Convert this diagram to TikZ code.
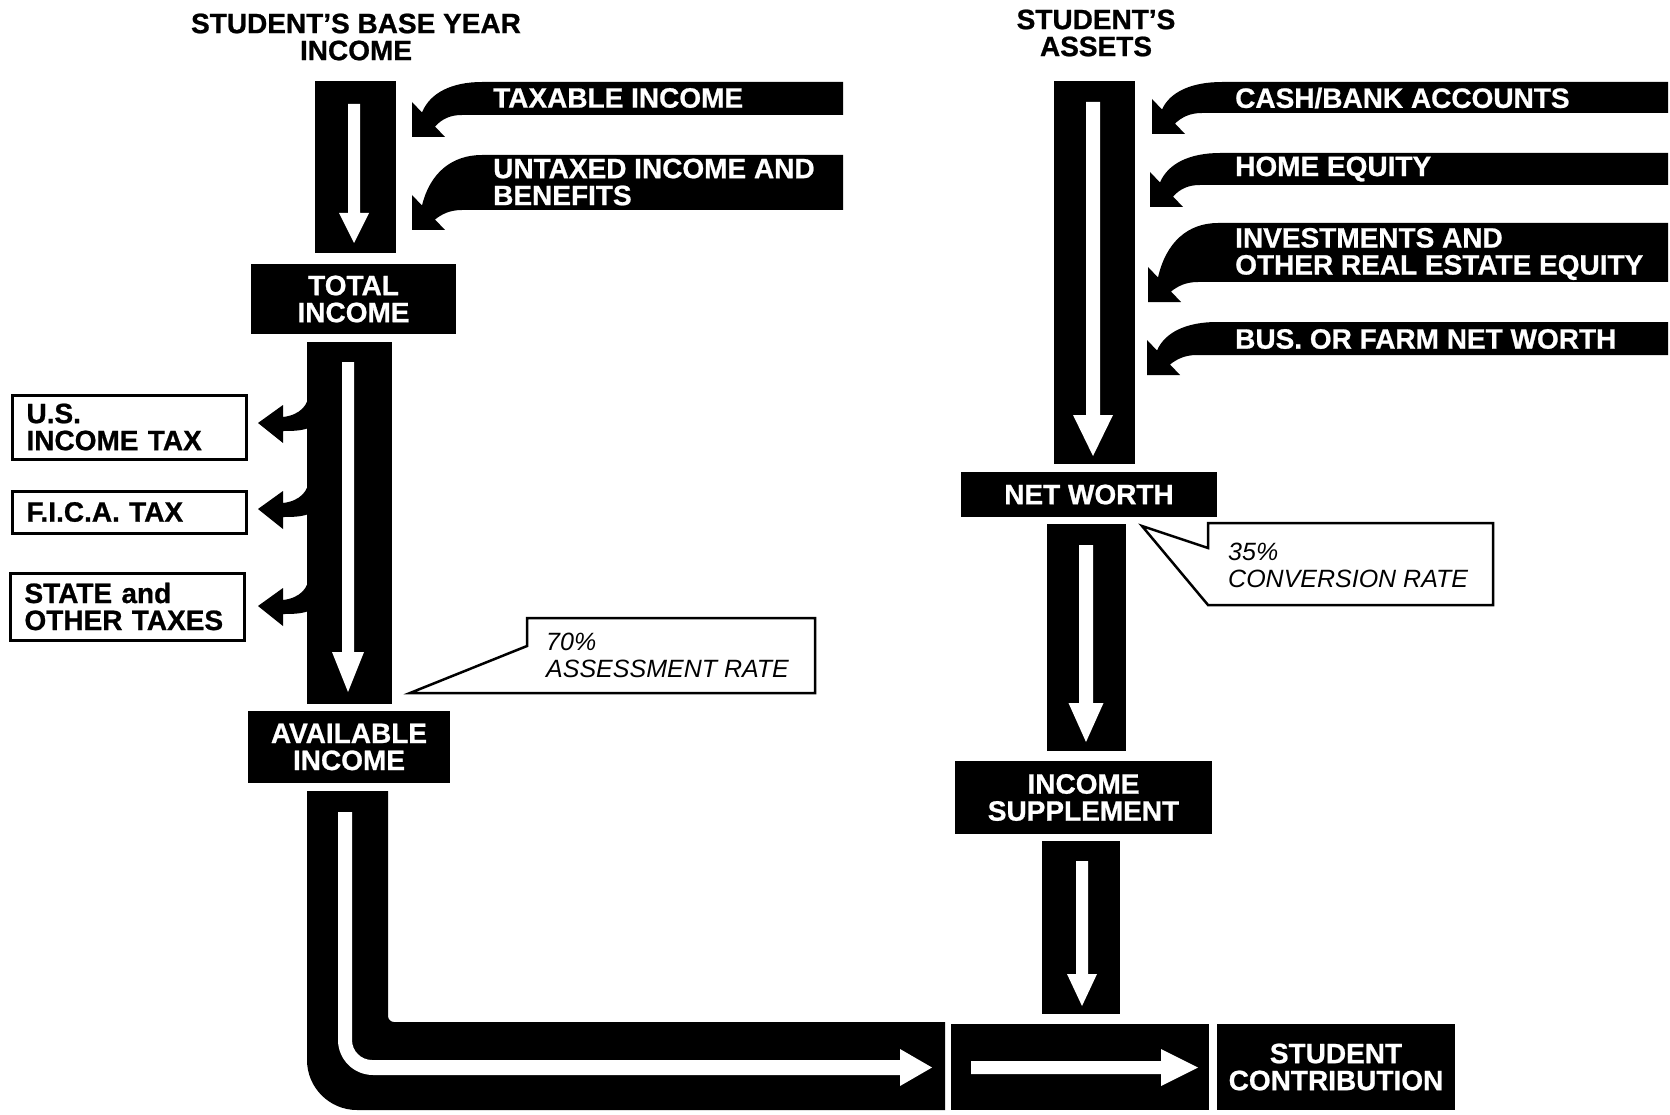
\documentclass[tikz,border=0pt]{standalone}
\usepackage{fontspec}
\setmainfont{Liberation Sans}[BoldFeatures={FakeBold=0.8}]
\newcommand\inarrow[5]{% X Y T B R
 \fill (#5,#3) -- ({#1+70},#3) .. controls ({#1+40},#3) and ({#1+18},{#3+0.35*(#2-24.5-#3)}) .. ({#1+10},{#2-24.5}) -- (#1,{#2-35}) -- (#1,#2) -- ({#1+33},#2) -- ({#1+23},{#2-10.5}) .. controls ({#1+30},{#4+4}) and ({#1+38},#4) .. ({#1+50},#4) -- (#5,#4) -- cycle;}
\newcommand\outarr[1]{%
 \fill (258,#1) -- (283,{#1-18}) -- (283,{#1-6}) .. controls (300,{#1-8}) and (309,{#1-18}) .. (309,{#1-31}) -- (309,{#1+5}) .. controls (300,{#1+8}) and (292,{#1+8}) .. (283,{#1+8}) -- (283,{#1+20}) -- cycle;}
\newcommand\wdown[6]{% xc ytop yhs ytip sw hw
 \fill[white] ({#1-#5/2},#2) -- ({#1+#5/2},#2) -- ({#1+#5/2},#3) -- ({#1+#6/2},#3) -- (#1,#4) -- ({#1-#6/2},#3) -- ({#1-#5/2},#3) -- cycle;}
\begin{document}
\begin{tikzpicture}[x=1pt,y=-1pt,
  bigtxt/.style={font=\fontsize{28}{27}\selectfont\bfseries, inner sep=0pt},
  wlbl/.style={bigtxt, text=white, align=center},
  blkbox/.style={fill=black, inner sep=0pt, wlbl},
  bandtxt/.style={bigtxt, text=white, align=left, anchor=west},
  taxbox/.style={draw=black, line width=3pt, fill=white, bigtxt, align=left, anchor=west, inner xsep=14pt, inner ysep=0pt, text width=206pt},
  callout/.style={draw=black, line width=2.5pt, fill=white, line join=miter},
  note/.style={font=\fontsize{25}{27}\selectfont\itshape, align=left, anchor=west, inner sep=0pt},
]
\useasboundingbox (0,0) rectangle (1670,1115);
\fill[white] (0,0) rectangle (1670,1115);

% ---------- titles
\node[bigtxt, align=center] (t1) at (356,37) {STUDENT'S BASE YEAR\\INCOME};
\node[bigtxt, align=center] (t2) at (1096,33) {STUDENT'S\\ASSETS};

% ---------- left column
\fill (315,81) rectangle (396,253);
\wdown{354}{104}{213}{243}{12}{30}
\inarrow{412}{137}{82}{115}{843}
\inarrow{412}{230}{155}{210}{843}
\node[bandtxt] (taxable) at (493,98) {TAXABLE INCOME};
\node[bandtxt] (untaxed) at (493,182) {UNTAXED INCOME AND\\BENEFITS};

\node[blkbox, minimum width=205pt, minimum height=70pt] (total) at (353.5,299) {TOTAL\\INCOME};

\fill (307,342) rectangle (392,704);
\wdown{348}{362}{652}{692}{12}{32}
\outarr{423}
\outarr{509}
\outarr{606}

\node[taxbox, minimum height=64pt] (ustax) at (11,427) {U.S.\\INCOME TAX};
\node[taxbox, minimum height=42pt] (fica) at (11,512) {F.I.C.A. TAX};
\node[taxbox, minimum height=67pt] (state) at (9,606.5) {STATE and\\OTHER TAXES};

\filldraw[callout] (527,646) -- (527,618) -- (815,618) -- (815,693) -- (410,693) -- cycle;
\node[note] (note70) at (546,655) {70\%\\ASSESSMENT RATE};

\node[blkbox, minimum width=202pt, minimum height=72pt] (avail) at (349,747) {AVAILABLE\\INCOME};

% L-shaped bar
\fill (307,791) -- (388,791) -- (388,1016) .. controls (388,1019.3) and (390.7,1022) .. (394,1022) -- (945,1022) -- (945,1110) -- (357,1110) .. controls (329.4,1110) and (307,1087.6) .. (307,1060) -- cycle;
\fill[white] (338,812) -- (352,812) -- (352,1040) .. controls (352,1051) and (361,1060) .. (372,1060) -- (900,1060) -- (900,1049) -- (932,1067.5) -- (900,1086) -- (900,1075) -- (373,1075) .. controls (353.7,1075) and (338,1059.3) .. (338,1040) -- cycle;

% middle box
\fill (951,1024) rectangle (1209,1110);
\fill[white] (971,1061) -- (1161,1061) -- (1161,1049) -- (1198,1067.5) -- (1161,1086) -- (1161,1074) -- (971,1074) -- cycle;

\node[blkbox, minimum width=238pt, minimum height=86pt] (contrib) at (1336,1067) {STUDENT\\CONTRIBUTION};

% ---------- right column
\fill (1054,81) rectangle (1135,464);
\wdown{1093}{102}{415}{456}{14}{40}
\inarrow{1152}{134}{82}{113}{1668}
\inarrow{1150}{207}{153}{185}{1668}
\inarrow{1148}{302}{223}{282}{1668}
\inarrow{1147}{375}{322}{355}{1668}
\node[bandtxt] (cash) at (1235,98) {CASH/BANK ACCOUNTS};
\node[bandtxt] (home) at (1235,169) {HOME EQUITY};
\node[bandtxt] (invest) at (1235,254) {INVESTMENTS AND\\OTHER REAL ESTATE EQUITY};
\node[bandtxt] (bus) at (1235,339) {BUS. OR FARM NET WORTH};

\node[blkbox, minimum width=256pt, minimum height=45pt] (networth) at (1089,494.5) {NET WORTH};

\fill (1047,524) rectangle (1126,751);
\wdown{1086}{545}{703}{742}{14}{35}

\filldraw[callout] (1208,548) -- (1208,523) -- (1493,523) -- (1493,605) -- (1208,605) -- (1142,526) -- cycle;
\node[note] (note35) at (1228,565) {35\%\\CONVERSION RATE};

\node[blkbox, minimum width=257pt, minimum height=73pt] (suppl) at (1083.5,797.5) {INCOME\\SUPPLEMENT};

\fill (1042,841) rectangle (1120,1014);
\wdown{1082}{861}{974}{1006}{12}{30}
\end{tikzpicture}
\end{document}
